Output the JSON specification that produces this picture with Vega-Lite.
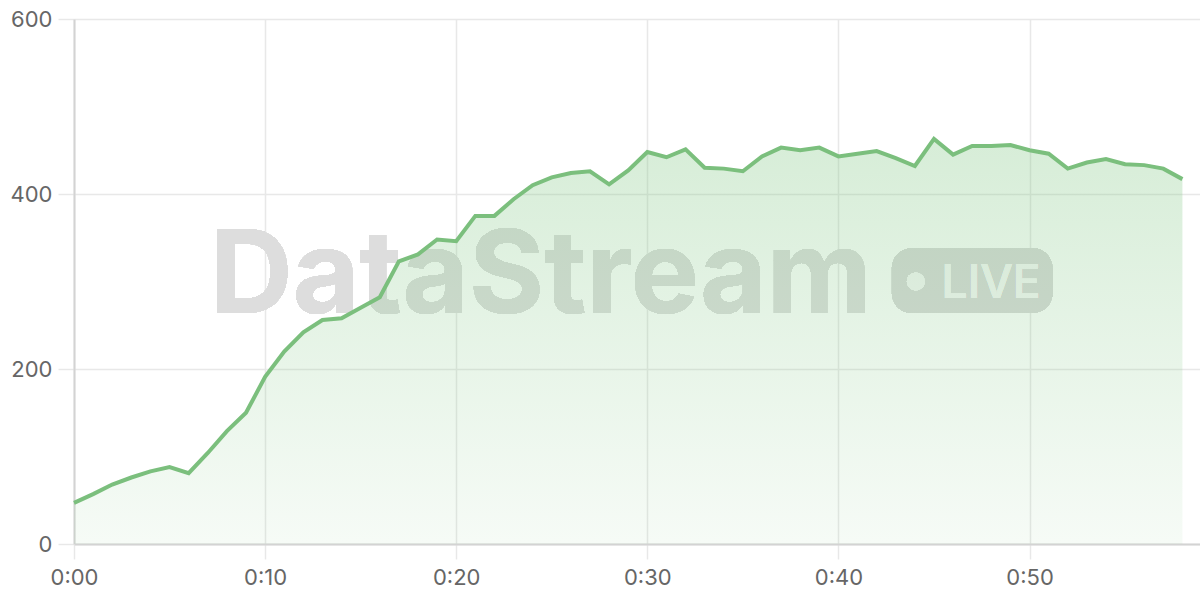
{
  "$schema": "https://vega.github.io/schema/vega-lite/v6.json",
  "description": "Live viewer count over the first hour, DataStream watermark.",
  "width": 1126,
  "height": 525,
  "autosize": {"type": "none"},
  "padding": {"left": 74, "top": 19, "right": 0, "bottom": 56},
  "background": "#ffffff",
  "config": {
    "view": {"stroke": null},
    "font": "Inter",
    "axis": {
      "labelFont": "Inter",
      "labelFontSize": 22,
      "labelColor": "#666666",
      "labelFlush": false,
      "gridColor": "#e8e8e8",
      "gridWidth": 1.5,
      "tickColor": "#e8e8e8",
      "tickWidth": 1.5,
      "domainColor": "#d3d3d3",
      "domainWidth": 2,
      "title": null
    }
  },
  "data": {
    "values": [
      {"minute": 0, "value": 47}, {"minute": 1, "value": 57}, {"minute": 2, "value": 68},
      {"minute": 3, "value": 76}, {"minute": 4, "value": 83}, {"minute": 5, "value": 88},
      {"minute": 6, "value": 81}, {"minute": 7, "value": 104}, {"minute": 8, "value": 129},
      {"minute": 9, "value": 150}, {"minute": 10, "value": 191}, {"minute": 11, "value": 220},
      {"minute": 12, "value": 242}, {"minute": 13, "value": 256}, {"minute": 14, "value": 258},
      {"minute": 15, "value": 270}, {"minute": 16, "value": 282}, {"minute": 17, "value": 323},
      {"minute": 18, "value": 331}, {"minute": 19, "value": 348}, {"minute": 20, "value": 346},
      {"minute": 21, "value": 375}, {"minute": 22, "value": 375}, {"minute": 23, "value": 394},
      {"minute": 24, "value": 410}, {"minute": 25, "value": 419}, {"minute": 26, "value": 424},
      {"minute": 27, "value": 426}, {"minute": 28, "value": 411}, {"minute": 29, "value": 427},
      {"minute": 30, "value": 448}, {"minute": 31, "value": 442}, {"minute": 32, "value": 451},
      {"minute": 33, "value": 430}, {"minute": 34, "value": 429}, {"minute": 35, "value": 426},
      {"minute": 36, "value": 443}, {"minute": 37, "value": 453}, {"minute": 38, "value": 450},
      {"minute": 39, "value": 453}, {"minute": 40, "value": 443}, {"minute": 41, "value": 446},
      {"minute": 42, "value": 449}, {"minute": 43, "value": 441}, {"minute": 44, "value": 432},
      {"minute": 45, "value": 463}, {"minute": 46, "value": 445}, {"minute": 47, "value": 455},
      {"minute": 48, "value": 455}, {"minute": 49, "value": 456}, {"minute": 50, "value": 450},
      {"minute": 51, "value": 446}, {"minute": 52, "value": 429}, {"minute": 53, "value": 436},
      {"minute": 54, "value": 440}, {"minute": 55, "value": 434}, {"minute": 56, "value": 433},
      {"minute": 57, "value": 429}, {"minute": 58, "value": 417}
    ]
  },
  "encoding": {
    "x": {
      "field": "minute",
      "type": "quantitative",
      "scale": {"domain": [0, 58.92], "nice": false, "zero": true},
      "axis": {
        "values": [0, 10, 20, 30, 40, 50],
        "labelExpr": "'0:' + (datum.value < 10 ? '0' : '') + datum.value",
        "tickSize": 15,
        "labelPadding": 8,
        "domain": true
      }
    },
    "y": {
      "field": "value",
      "type": "quantitative",
      "scale": {"domain": [0, 600], "nice": false},
      "axis": {
        "values": [0, 200, 400, 600],
        "tickSize": 16,
        "labelPadding": 6
      }
    }
  },
  "layer": [
    {
      "mark": {
        "type": "text",
        "text": "DataStream",
        "font": "Inter",
        "fontWeight": "bold",
        "fontSize": 115,
        "align": "left",
        "baseline": "alphabetic",
        "fill": "#dddddd"
      },
      "encoding": {
        "x": {"datum": 7.1, "type": "quantitative"},
        "y": {"datum": 264, "type": "quantitative"}
      }
    },
    {
      "mark": {"type": "rect", "cornerRadius": 20, "fill": "#d9d9d9"},
      "encoding": {
        "x": {"datum": 42.8, "type": "quantitative"},
        "x2": {"datum": 51.2},
        "y": {"datum": 338, "type": "quantitative"},
        "y2": {"datum": 264}
      }
    },
    {
      "mark": {"type": "circle", "size": 320, "fill": "#f7f7f7", "opacity": 1},
      "encoding": {
        "x": {"datum": 44.05, "type": "quantitative"},
        "y": {"datum": 300, "type": "quantitative"}
      }
    },
    {
      "mark": {
        "type": "text",
        "text": "LIVE",
        "font": "Inter",
        "fontWeight": 500,
        "fontSize": 46,
        "align": "left",
        "baseline": "alphabetic",
        "fill": "#f7f7f7"
      },
      "encoding": {
        "x": {"datum": 45.4, "type": "quantitative"},
        "y": {"datum": 281, "type": "quantitative"}
      }
    },
    {
      "mark": {
        "type": "area",
        "interpolate": "linear",
        "fill": {
          "gradient": "linear",
          "x1": 0, "y1": 0, "x2": 0, "y2": 1,
          "stops": [
            {"offset": 0, "color": "rgba(129,199,132,0.32)"},
            {"offset": 1, "color": "rgba(129,199,132,0.07)"}
          ]
        }
      }
    },
    {
      "mark": {"type": "line", "color": "#7bbf7d", "strokeWidth": 4, "interpolate": "linear"}
    }
  ]
}
